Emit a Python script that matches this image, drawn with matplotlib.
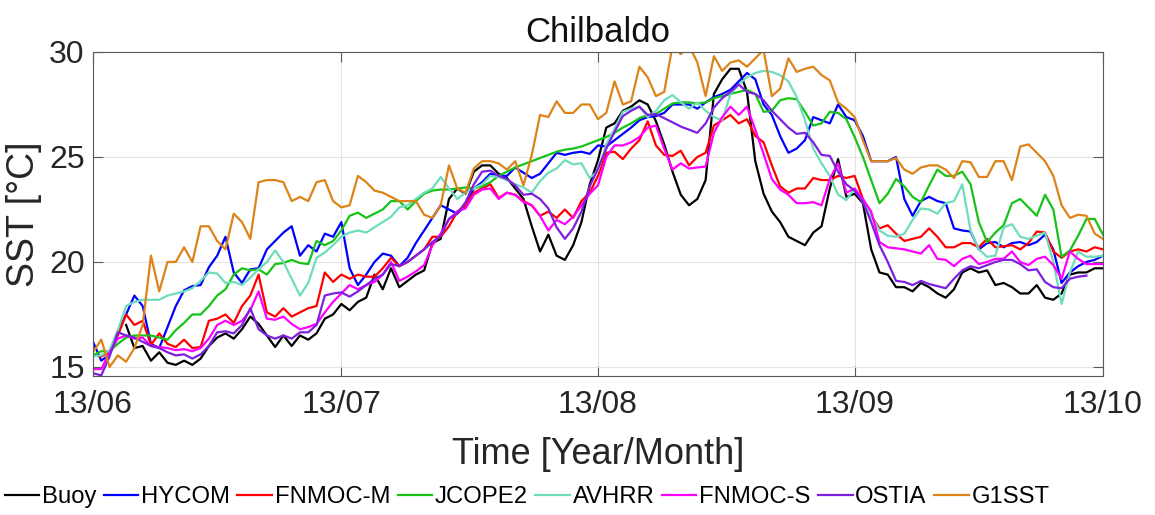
import numpy as np
import pandas as pd
import matplotlib
matplotlib.use("Agg")
import matplotlib.pyplot as plt
import matplotlib.dates as mdates

plt.rcParams['font.family'] = ['Liberation Sans', 'DejaVu Sans']

nan = np.nan
days = pd.date_range('2013-06-01', '2013-10-01', freq='D')   # 123 daily values

buoy = [nan, nan, nan, nan,
        17.0, 15.9, 16.0, 15.3, 15.7, 15.2, 15.1, 15.3, 15.1, 15.4, 16.0, 16.4, 16.6, 16.35, 16.8, 17.4,
        17.05, 16.5, 15.95, 16.5, 16.0, 16.5, 16.3, 16.6, 17.3, 17.5, 18.0, 17.7, 18.1, 18.3, 19.4, 18.7,
        19.7, 18.8, 19.1, 19.4, 19.6, 20.9, 21.1, 23.0, 23.5, 23.25, 24.3, 24.6, 24.6, 24.2, 24.0, 23.5,
        23.0, 21.7, 20.5, 21.3, 20.3, 20.1, 20.8, 21.9, 23.7, 24.85, 26.4, 26.6, 27.2, 27.4, 27.7, 27.5,
        26.7, 25.6, 24.3, 23.2, 22.7, 23.0, 23.9, 28.0, 28.7, 29.2, 29.2, 28.1, 24.8, 23.25, 22.4, 21.9,
        21.2, 21.0, 20.8, 21.4, 21.7, 23.5, 24.9, 23.1, 23.25, 22.8, 20.6, 19.5, 19.4, 18.8, 18.8, 18.6,
        19.0, 18.8, 18.5, 18.3, 18.7, 19.5, 19.7, 19.5, 19.6, 18.9, 19.0, 18.8, 18.5, 18.5, 18.9, 18.3,
        18.2, 18.5, 19.4, 19.5, 19.5, 19.7, 19.7]

hycom = [16.2, 15.3, 15.6, 16.7, 17.5, 18.4, 17.9, 16.1, 15.9, 16.9, 17.9, 18.65, 18.85, 18.9, 19.75, 20.3,
         21.2, 19.5, 19.0, 19.65, 19.7, 20.6, 21.0, 21.4, 21.7, 20.3, 20.8, 20.5, 21.35, 21.2, 21.9, 19.7,
         18.9, 19.4, 20.0, 20.4, 20.3, 19.8, 20.2, 20.9, 21.5, 22.1, 22.7, 22.5, 22.3, 22.7, 23.5, 23.8,
         24.2, 24.1, 24.1, 24.5, 24.25, 24.0, 24.2, 24.7, 25.2, 25.1, 25.2, 25.25, 25.15, 25.55, 25.5, 25.8,
         26.1, 26.4, 26.75, 26.9, 26.95, 27.1, 27.5, 27.5, 27.5, 27.3, 27.6, 27.85, 28.0, 28.2, 28.6, 29.0,
         28.7, 27.5, 27.0, 26.0, 25.2, 25.4, 25.8, 26.9, 26.75, 26.6, 27.5, 26.9, 26.75, 26.0, 24.8, 24.8,
         24.8, 25.0, 23.0, 22.2, 22.9, 23.1, 22.9, 22.8, 21.6, 21.5, 21.45, 20.6, 20.9, 20.95, 20.7, 20.9,
         20.95, 20.8, 20.95, 21.3, 20.6, 19.0, 19.5, 19.8, 20.0, 20.1, 20.3]

fnmoc_m = [15.55, 15.5, 15.75, 16.5, 17.5, 17.0, 17.2, 16.05, 16.6, 16.1, 15.95, 16.3, 15.9, 15.95, 17.2, 17.3,
           17.5, 17.1, 17.9, 18.4, 19.4, 17.6, 17.4, 17.8, 17.4, 17.6, 17.8, 17.9, 19.5, 19.05, 19.4, 19.2,
           19.4, 19.3, 19.3, 19.7, 20.2, 19.8, 20.0, 20.3, 20.6, 21.2, 21.2, 21.7, 22.4, 22.7, 23.3, 23.5,
           23.7, 23.05, 23.3, 23.2, 22.9, 22.7, 22.2, 22.4, 22.1, 22.5, 22.1, 22.9, 23.3, 24.1, 25.2, 25.25,
           24.9, 25.4, 25.8, 26.7, 25.55, 25.1, 25.05, 25.3, 24.6, 25.0, 25.2, 26.5, 26.75, 27.0, 26.6, 26.8,
           26.0, 25.7, 24.6, 23.6, 23.3, 23.5, 23.5, 24.0, 23.9, 23.9, 24.1, 24.0, 24.1, 23.0, 22.2, 21.6,
           21.75, 21.35, 21.0, 21.1, 21.2, 21.6, 21.2, 20.7, 20.7, 20.9, 20.9, 20.7, 21.1, 20.7, 20.75, 20.8,
           20.6, 20.9, 21.45, 21.4, 20.5, 20.2, 20.5, 20.6, 20.5, 20.7, 20.6]

jcope2 = [15.55, 15.75, 15.75, 16.1, 16.4, 16.5, 16.5, 16.5, 16.4, 16.3, 16.75, 17.1, 17.5, 17.5, 17.9, 18.4,
          18.7, 19.4, 19.7, 19.6, 19.65, 19.4, 19.9, 19.95, 20.1, 19.95, 19.9, 21.0, 20.8, 21.0, 21.5, 22.2,
          22.35, 22.1, 22.3, 22.5, 22.9, 22.9, 22.5, 22.9, 23.25, 23.4, 23.45, 23.45, 23.5, 23.55, 23.5, 23.6,
          23.8, 24.1, 24.3, 24.5, 24.65, 24.8, 24.95, 25.1, 25.25, 25.35, 25.4, 25.5, 25.65, 25.8, 25.95, 26.15,
          26.4, 26.6, 26.85, 27.0, 27.05, 27.3, 27.55, 27.6, 27.6, 27.55, 27.6, 27.8, 27.9, 28.0, 28.1, 28.2,
          28.0, 27.15, 27.2, 27.7, 27.8, 27.75, 27.15, 26.5, 26.6, 27.15, 27.1, 26.8, 25.95, 25.0, 23.9, 22.8,
          23.25, 23.95, 23.6, 23.1, 22.85, 23.65, 24.4, 24.1, 24.1, 24.3, 23.7, 21.9, 20.95, 21.4, 21.75, 22.8,
          23.0, 22.6, 22.2, 23.2, 22.5, 20.25, 20.55, 21.25, 22.05, 22.05, 21.3]

avhrr = [15.5, 15.55, 15.8, 16.75, 17.9, 18.1, 18.2, 18.2, 18.2, 18.4, 18.5, 18.6, 18.75, 19.1, 19.5, 19.45,
         19.0, 19.05, 18.9, 19.25, 19.65, 20.0, 20.55, 20.0, 19.2, 18.4, 19.0, 20.2, 20.45, 20.8, 21.2, 21.4,
         21.5, 21.4, 21.65, 21.9, 22.15, 22.6, 22.7, 23.0, 23.3, 23.5, 24.05, 23.5, 23.0, 23.3, 23.5, 23.7,
         24.1, 24.05, 23.9, 23.7, 23.55, 23.3, 23.85, 24.25, 24.45, 24.85, 24.65, 24.7, 24.0, 24.35, 25.6, 26.35,
         27.15, 27.3, 27.4, 26.9, 27.2, 27.7, 27.95, 27.6, 27.3, 27.6, 27.2, 26.9, 26.75, 28.0, 28.45, 28.8,
         29.0, 29.1, 29.05, 28.9, 28.6, 27.85, 26.75, 25.4, 24.7, 24.1, 23.2, 22.95, 23.5, 22.85, 22.2, 21.5,
         21.25, 21.2, 21.35, 22.0, 22.55, 22.5, 22.3, 22.8, 22.9, 23.7, 21.5, 20.6, 20.25, 20.3, 21.65, 21.8,
         21.2, 21.1, 21.25, 21.4, 20.0, 18.0, 19.5, 20.5, 20.25, 20.25, 20.3]

fnmoc_s = [14.9, 14.9, 15.7, 16.35, 16.5, 16.35, 16.4, 16.0, 15.95, 15.9, 15.8, 15.85, 15.75, 15.9, 16.35, 17.0,
           17.2, 17.0, 17.2, 17.7, 18.6, 17.3, 17.25, 17.4, 17.05, 16.8, 16.9, 17.05, 17.6, 18.1, 18.5, 18.9,
           18.7, 18.9, 19.05, 19.4, 20.0, 19.1, 19.3, 19.55, 19.85, 20.8, 21.35, 22.05, 22.4, 22.55, 23.2, 23.45,
           23.5, 23.0, 23.3, 23.2, 22.85, 22.7, 22.2, 21.5, 22.0, 21.8, 22.15, 22.7, 23.25, 23.65, 25.0, 25.55,
           25.55, 25.7, 25.95, 26.4, 26.5, 25.4, 24.4, 24.7, 24.45, 24.5, 24.55, 26.15, 26.9, 27.4, 27.0, 27.4,
           26.3, 25.15, 23.95, 23.45, 23.2, 22.8, 22.8, 22.85, 22.7, 23.95, 24.7, 23.3, 23.5, 23.0, 22.4, 20.95,
           20.7, 20.65, 20.6, 20.5, 20.4, 20.8, 20.15, 20.1, 19.8, 20.15, 20.3, 19.9, 20.0, 20.15, 20.15, 20.5,
           20.0, 19.85, 20.15, 20.25, 19.85, 19.2, 20.5, 20.15, 19.9, 19.9, 19.9]

ostia = [14.7, 14.6, 15.5, 16.65, 16.5, 16.4, 16.2, 16.0, 15.9, 15.7, 15.55, 15.6, 15.4, 15.6, 16.0, 16.65,
         16.7, 16.6, 17.0, 17.8, 16.8, 16.5, 16.35, 16.5, 16.35, 16.65, 16.65, 17.0, 18.4, 18.5, 18.55, 18.35,
         18.6, 18.9, 19.2, 19.4, 19.9, 19.8, 20.0, 20.3, 20.6, 20.95, 21.25, 22.05, 22.3, 22.85, 23.7, 24.3,
         24.35, 24.1, 23.95, 23.65, 23.2, 23.25, 23.0, 22.55, 21.65, 21.1, 21.6, 22.4, 23.6, 24.45, 25.4, 26.2,
         26.95, 27.2, 27.4, 27.0, 27.05, 26.85, 26.65, 26.45, 26.3, 26.15, 26.6, 27.35, 27.8, 28.1, 28.45, 28.1,
         28.0, 27.7, 27.2, 26.8, 26.4, 26.1, 26.15, 25.7, 25.1, 25.05, 24.3, 23.7, 23.4, 22.85, 21.9, 20.8,
         20.0, 19.1, 19.05, 18.9, 19.1, 18.95, 18.85, 18.75, 19.2, 19.6, 19.8, 19.7, 19.85, 20.0, 20.1, 20.1,
         19.9, 19.6, 19.65, 19.05, 18.8, 18.75, 19.2, 19.3, 19.35, nan, nan]

g1sst = [15.7, 16.3, 15.0, 15.55, 15.25, 15.9, 17.0, 20.3, 18.6, 20.0, 20.0, 20.7, 20.0, 21.7, 21.7, 21.0,
         20.6, 22.3, 21.9, 21.1, 23.8, 23.9, 23.9, 23.8, 22.9, 23.1, 22.9, 23.8, 23.9, 22.9, 22.6, 22.7,
         24.1, 23.8, 23.4, 23.3, 23.1, 22.9, 22.9, 22.9, 22.25, 22.1, 22.7, 24.6, 23.5, 23.3, 24.45, 24.8,
         24.8, 24.7, 24.4, 24.8, 23.65, 25.1, 27.0, 26.9, 27.65, 27.1, 27.1, 27.5, 27.5, 26.8, 27.1, 28.6,
         27.5, 27.65, 29.3, 28.8, 27.9, 28.1, 30.3, 29.9, 30.3, 29.5, 27.9, 29.8, 29.1, 29.5, 29.6, 29.3,
         29.7, 30.1, 27.9, 28.25, 29.7, 29.05, 29.2, 29.3, 28.9, 28.65, 27.6, 27.3, 26.9, 25.8, 24.8, 24.8,
         24.8, 24.95, 24.4, 24.2, 24.5, 24.6, 24.6, 24.4, 24.0, 24.8, 24.75, 24.05, 24.05, 24.8, 24.8, 23.9,
         25.5, 25.6, 25.2, 24.8, 24.1, 22.7, 22.1, 22.25, 22.2, 21.35, 21.1]

names = ['Buoy', 'HYCOM', 'FNMOC-M', 'JCOPE2', 'AVHRR', 'FNMOC-S', 'OSTIA', 'G1SST']
colors = ['#000000', '#0000ff', '#ff0000', '#16c316', '#6fdcbd', '#ff00ff', '#7f1fe0', '#dd8318']
series = [buoy, hycom, fnmoc_m, jcope2, avhrr, fnmoc_s, ostia, g1sst]

fig = plt.figure(figsize=(11.55, 5.15), dpi=100)
ax = fig.add_axes([93 / 1155, 1 - 376 / 515, 1010 / 1155, 324 / 515])

for name, col, vals in zip(names, colors, series):
    ax.plot(days, vals, color=col, lw=1.6, label=name)

ax.set_xlim(days[0], days[-1])
ax.set_ylim(14.57, 30)
ax.set_yticks([15, 20, 25, 30])
ax.xaxis.set_major_locator(mdates.MonthLocator())
ax.xaxis.set_major_formatter(mdates.DateFormatter('%y/%m'))

ax.grid(True, color='#e4e4e4', lw=0.8)
ax.set_axisbelow(True)
ax.tick_params(direction='in', length=7, width=0.8, top=True, right=True,
               labelsize=23, colors='0.35', labelcolor='#262626')
ax.tick_params(axis='x', pad=10)
ax.tick_params(axis='y', pad=6)
for s in ax.spines.values():
    s.set_color('0.35')
    s.set_linewidth(0.8)

ax.set_title('Chilbaldo', fontsize=25, pad=7, color='#111111')
ax.set_xlabel('Time [Year/Month]', fontsize=26, labelpad=12, color='#262626')
ax.set_ylabel('SST [°C]', fontsize=27, labelpad=5, color='#262626')

fig.legend(loc='center', bbox_to_anchor=(527 / 1155, 1 - 497 / 515), ncol=8, frameon=False,
           fontsize=17.2, handlelength=1.45, handletextpad=0.12, columnspacing=0.3)

fig.savefig('out.png', dpi=100)
